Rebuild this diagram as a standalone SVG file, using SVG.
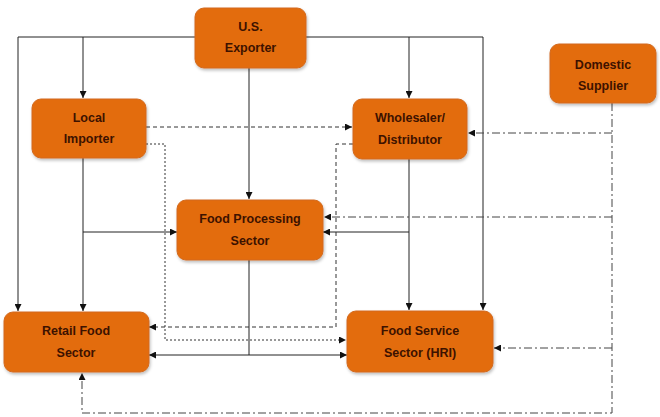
<svg xmlns="http://www.w3.org/2000/svg" width="660" height="417" viewBox="0 0 660 417">
<defs>
<style>
.box{fill:#E36C0A;stroke:#d2691e;stroke-width:1}
.lbl{font-family:"Liberation Sans",Arial,sans-serif;font-weight:bold;font-size:12.5px;fill:#3d1200;text-anchor:middle}
.solid{fill:none;stroke:#222;stroke-width:1}
.dash{fill:none;stroke:#333;stroke-width:1;stroke-dasharray:4 3}
.dot{fill:none;stroke:#333;stroke-width:1;stroke-dasharray:2 2}
.dashdot{fill:none;stroke:#444;stroke-width:1;stroke-dasharray:8 3 2 3}
</style>
<filter id="sh" x="-10%" y="-10%" width="125%" height="130%">
<feDropShadow dx="1" dy="2" stdDeviation="1.5" flood-color="#000" flood-opacity="0.25"/>
</filter>
<marker id="ah" viewBox="0 0 10 10" refX="10" refY="5" markerWidth="7" markerHeight="7" orient="auto" markerUnits="userSpaceOnUse">
<path d="M0,0 L10,5 L0,10 z" fill="#111"/>
</marker>
</defs>
<rect width="660" height="417" fill="#fff"/>
<g id="connectors">
<path class="solid" d="M195,37 H18 V311" marker-end="url(#ah)"/>
<path class="solid" d="M306,37 H483 V310" marker-end="url(#ah)"/>
<path class="solid" d="M83,37 V98" marker-end="url(#ah)"/>
<path class="solid" d="M409,37 V98" marker-end="url(#ah)"/>
<path class="solid" d="M249,68 V199" marker-end="url(#ah)"/>
<path class="solid" d="M83,158 V311" marker-end="url(#ah)"/>
<path class="solid" d="M83,232 H177" marker-end="url(#ah)"/>
<path class="solid" d="M409,159 V310" marker-end="url(#ah)"/>
<path class="solid" d="M409,232 H323" marker-end="url(#ah)"/>
<path class="solid" d="M249,260 V355"/>
<path class="solid" d="M249,355 H149" marker-end="url(#ah)"/>
<path class="solid" d="M249,355 H347" marker-end="url(#ah)"/>
<path class="dash" d="M146,127 H352" marker-end="url(#ah)"/>
<path class="dot" d="M146,144 H165 V340 H346" marker-end="url(#ah)"/>
<path class="dash" d="M353,144 H336 V327 H149" marker-end="url(#ah)"/>
<path class="dashdot" d="M612,103 V413 H82 V373" marker-end="url(#ah)"/>
<path class="dashdot" d="M612,133 H468" marker-end="url(#ah)"/>
<path class="dashdot" d="M612,217 H324" marker-end="url(#ah)"/>
<path class="dashdot" d="M612,348 H494" marker-end="url(#ah)"/>
</g>
<g id="us-exporter">
<rect class="box" x="195" y="8" width="111" height="60" rx="9" filter="url(#sh)"/>
<text class="lbl" x="250.5" y="31">U.S.</text>
<text class="lbl" x="250.5" y="52">Exporter</text>
</g>
<g id="local-importer">
<rect class="box" x="32" y="99" width="114" height="59" rx="9" filter="url(#sh)"/>
<text class="lbl" x="89" y="122">Local</text>
<text class="lbl" x="89" y="143">Importer</text>
</g>
<g id="wholesaler">
<rect class="box" x="353" y="99" width="114" height="60" rx="9" filter="url(#sh)"/>
<text class="lbl" x="410" y="122">Wholesaler/</text>
<text class="lbl" x="410" y="144">Distributor</text>
</g>
<g id="domestic-supplier">
<rect class="box" x="550" y="44" width="106" height="59" rx="9" filter="url(#sh)"/>
<text class="lbl" x="603" y="69">Domestic</text>
<text class="lbl" x="603" y="90">Supplier</text>
</g>
<g id="food-processing">
<rect class="box" x="177" y="200" width="146" height="60" rx="9" filter="url(#sh)"/>
<text class="lbl" x="250" y="223">Food Processing</text>
<text class="lbl" x="250" y="245">Sector</text>
</g>
<g id="retail-food">
<rect class="box" x="4" y="312" width="145" height="60" rx="9" filter="url(#sh)"/>
<text class="lbl" x="76" y="335">Retail Food</text>
<text class="lbl" x="76" y="357">Sector</text>
</g>
<g id="food-service">
<rect class="box" x="347" y="311" width="146" height="61" rx="9" filter="url(#sh)"/>
<text class="lbl" x="420" y="335">Food Service</text>
<text class="lbl" x="420" y="357">Sector (HRI)</text>
</g>
</svg>
